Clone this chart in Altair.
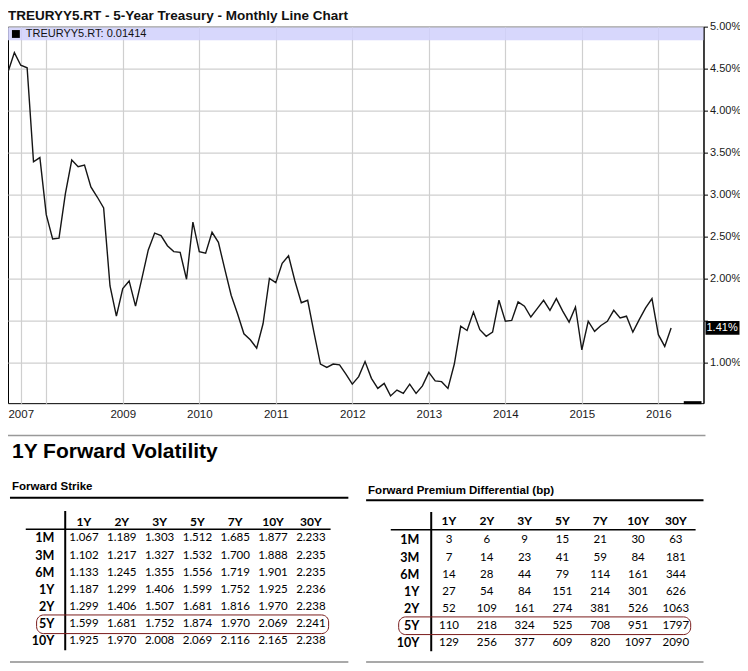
import altair as alt
import pandas as pd

# ---------------- data ----------------
TITLE = "TREURYY5.RT - 5-Year Treasury - Monthly Line Chart"
LEGEND = "TREURYY5.RT: 0.01414"
LAST_LABEL = "1.41%"
first_month = "2007-07-01"
yields = [4.46, 4.69, 4.54, 4.51, 3.39, 3.44, 2.76, 2.47, 2.48, 3.01,
          3.41, 3.33, 3.35, 3.09, 2.97, 2.84, 1.91, 1.55, 1.88, 1.97,
          1.67, 2.00, 2.34, 2.54, 2.51, 2.39, 2.32, 2.31, 1.99, 2.67,
          2.32, 2.30, 2.55, 2.43, 2.11, 1.80, 1.58, 1.34, 1.27, 1.17,
          1.46, 2.00, 1.95, 2.18, 2.27, 1.97, 1.71, 1.74, 1.35, 0.98,
          0.94, 0.98, 0.97, 0.86, 0.74, 0.83, 1.01, 0.81, 0.69, 0.75,
          0.60, 0.67, 0.63, 0.74, 0.63, 0.72, 0.88, 0.78, 0.77, 0.69,
          0.98, 1.43, 1.38, 1.60, 1.39, 1.31, 1.36, 1.74, 1.49, 1.50,
          1.72, 1.67, 1.54, 1.64, 1.74, 1.62, 1.76, 1.61, 1.48, 1.66,
          1.15, 1.49, 1.37, 1.44, 1.49, 1.62, 1.53, 1.55, 1.36, 1.51,
          1.65, 1.76, 1.33, 1.19, 1.41]
x_tick_values = [2007 + 8 / 12, 2008, 2009, 2010, 2011, 2012, 2013, 2014, 2015, 2016]
y_tick_values = [1.0, 1.5, 2.0, 2.5, 3.0, 3.5, 4.0, 4.5, 5.0]

tenors = ["1Y", "2Y", "3Y", "5Y", "7Y", "10Y", "30Y"]
expiries = ["1M", "3M", "6M", "1Y", "2Y", "5Y", "10Y"]
strike = [
    [1.067, 1.189, 1.303, 1.512, 1.685, 1.877, 2.233],
    [1.102, 1.217, 1.327, 1.532, 1.700, 1.888, 2.235],
    [1.133, 1.245, 1.355, 1.556, 1.719, 1.901, 2.235],
    [1.187, 1.299, 1.406, 1.599, 1.752, 1.925, 2.236],
    [1.299, 1.406, 1.507, 1.681, 1.816, 1.970, 2.238],
    [1.599, 1.681, 1.752, 1.874, 1.970, 2.069, 2.241],
    [1.925, 1.970, 2.008, 2.069, 2.116, 2.165, 2.238],
]
premium = [
    [3, 6, 9, 15, 21, 30, 63],
    [7, 14, 23, 41, 59, 84, 181],
    [14, 28, 44, 79, 114, 161, 344],
    [27, 54, 84, 151, 214, 301, 626],
    [52, 109, 161, 274, 381, 526, 1063],
    [110, 218, 324, 525, 708, 951, 1797],
    [129, 256, 377, 609, 820, 1097, 2090],
]

# ---------------- layout helpers ----------------
W_ALL, H_ALL = 732, 655
SX, SY = 732 / 742, 655 / 668


def X(xr):
    return (xr - 3) * SX


def Y(yr):
    return yr * SY


PL, PT = X(3), Y(19)
W = X(708) - PL
H = Y(403) - PT


def gx(xr):
    return X(xr) - PL


def gy(yr):
    return Y(yr) - PT


FONT = "Liberation Sans"
TFONT = "Lato"

months = pd.date_range(first_month, periods=len(yields), freq="MS")
ts = pd.DataFrame({"t": months.year + (months.month - 1) / 12, "v": yields})
last = pd.DataFrame({"v": [yields[-1]], "lab": [LAST_LABEL]})
one = pd.DataFrame({"k": [0]})

xdom = [2007.5, 2016.59]
ydom = [0.514, 5.0]

# ---------------- top line chart ----------------
band = alt.Chart(one).mark_rect(color="#d0d0fb", opacity=0.85).encode(
    x=alt.value(0), x2=alt.value(W), y=alt.value(gy(20)), y2=alt.value(gy(33)))
legsq = alt.Chart(one).mark_rect(color="black").encode(
    x=alt.value(gx(7)), x2=alt.value(gx(15)), y=alt.value(gy(22.5)), y2=alt.value(gy(30.5)))
legtxt = alt.Chart(one).mark_text(align="left", baseline="middle", font=FONT, fontSize=11,
                                  color="#111").encode(
    x=alt.value(gx(21)), y=alt.value(gy(26.5)), text=alt.value(LEGEND))
title = alt.Chart(one).mark_text(align="left", baseline="middle", font=FONT, fontSize=13.5,
                                 fontWeight="bold", color="#111").encode(
    x=alt.value(gx(3)), y=alt.value(gy(8.6)), text=alt.value(TITLE))

line = alt.Chart(ts).mark_line(color="#151515", strokeWidth=1.4).encode(
    x=alt.X("t:Q", scale=alt.Scale(domain=xdom, nice=False, zero=False),
            axis=alt.Axis(values=x_tick_values, title=None, grid=True, ticks=False, domain=False,
                          labelExpr="datum.value < 2007.9 ? '2007' : (datum.value < 2008.5 ? '' : format(datum.value, 'd'))",
                          labelFlush=False, labelOverlap=False, labelPadding=5, labelFontSize=11.5)),
    y=alt.Y("v:Q", scale=alt.Scale(domain=ydom, nice=False, zero=False),
            axis=alt.Axis(orient="right", values=y_tick_values, title=None, grid=True, ticks=True,
                          tickSize=4, tickColor="black", domain=True, domainColor="black",
                          labelExpr="datum.value == 1.5 ? '' : format(datum.value, '.2f') + '%'",
                          labelPadding=2, labelOverlap=False, labelFlush=False)),
)

lastbox = alt.Chart(last).transform_calculate(lo="datum.v - 0.082", hi="datum.v + 0.082").mark_rect(
    color="black").encode(
    x=alt.value(W + 2), x2=alt.value(W + 36),
    y=alt.Y("lo:Q", scale=alt.Scale(domain=ydom, nice=False, zero=False), axis=None),
    y2="hi:Q")
lasttxt = alt.Chart(last).mark_text(align="left", baseline="middle", font=FONT, fontSize=11,
                                    color="white").encode(
    x=alt.value(W + 3),
    y=alt.Y("v:Q", scale=alt.Scale(domain=ydom, nice=False, zero=False), axis=None),
    text="lab:N")
scrollmark = alt.Chart(one).mark_rule(color="black", strokeWidth=3).encode(
    x=alt.value(gx(688)), x2=alt.value(gx(706)), y=alt.value(gy(402.5)))

# ---------------- lower section ----------------
sep = alt.Chart(one).mark_rule(color="#999999", strokeWidth=1.5).encode(
    x=alt.value(0), x2=alt.value(gx(710)), y=alt.value(gy(436)))
vol_title = alt.Chart(one).mark_text(align="left", baseline="middle", font=FONT, fontSize=21,
                                     fontWeight="bold", color="black").encode(
    x=alt.value(gx(7)), y=alt.value(gy(453)), text=alt.value("1Y Forward Volatility"))


def make_table(values, fmt, name, name_x, name_y, rule_x0, rule_x1, rule_y,
               col_x0, col_x1, hdr_y, row_y0, row_y1, rowlab_x, vline_x, vline_y0, vline_y1,
               hline_x0, hline_x1, hline_y, box, bottom_y):
    recs = []
    for r, row in zip(expiries, values):
        for c, v in zip(tenors, row):
            recs.append({"row": r, "col": c, "label": fmt(v)})
    df = pd.DataFrame(recs)
    xs = alt.Scale(type="point", domain=tenors, range=[gx(col_x0), gx(col_x1)], padding=0)
    ys = alt.Scale(type="point", domain=expiries, range=[gy(row_y0), gy(row_y1)], padding=0)
    layers = []
    layers.append(alt.Chart(one).mark_text(align="left", baseline="middle", font=FONT, fontSize=11.5,
                                           fontWeight="bold", color="black").encode(
        x=alt.value(gx(name_x)), y=alt.value(gy(name_y)), text=alt.value(name)))
    layers.append(alt.Chart(one).mark_rule(color="black", strokeWidth=2).encode(
        x=alt.value(gx(rule_x0)), x2=alt.value(gx(rule_x1)), y=alt.value(gy(rule_y))))
    layers.append(alt.Chart(one).mark_rule(color="black", strokeWidth=2).encode(
        x=alt.value(gx(vline_x)), y=alt.value(gy(vline_y0)), y2=alt.value(gy(vline_y1))))
    layers.append(alt.Chart(one).mark_rule(color="black", strokeWidth=1.5).encode(
        x=alt.value(gx(hline_x0)), x2=alt.value(gx(hline_x1)), y=alt.value(gy(hline_y))))
    layers.append(alt.Chart(one).mark_rect(fill="transparent", stroke="#7a1c1c", strokeWidth=1,
                                           cornerRadius=7).encode(
        x=alt.value(gx(box[0])), x2=alt.value(gx(box[1])),
        y=alt.value(gy(box[2])), y2=alt.value(gy(box[3]))))
    layers.append(alt.Chart(one).mark_rule(color="#8c8c8c", strokeWidth=1.5).encode(
        x=alt.value(gx(rule_x0)), x2=alt.value(gx(rule_x1)), y=alt.value(gy(bottom_y))))
    layers.append(alt.Chart(pd.DataFrame({"col": tenors})).mark_text(
        baseline="middle", font=TFONT, fontSize=12, fontWeight="bold", color="black").encode(
        x=alt.X("col:N", scale=xs, axis=None), y=alt.value(gy(hdr_y)), text="col:N"))
    layers.append(alt.Chart(pd.DataFrame({"row": expiries})).mark_text(
        align="right", baseline="middle", font=TFONT, fontSize=12.5, fontWeight="bold",
        color="black").encode(
        x=alt.value(gx(rowlab_x)), y=alt.Y("row:N", scale=ys, axis=None), text="row:N"))
    layers.append(alt.Chart(df).mark_text(baseline="middle", font=TFONT, fontSize=11.5,
                                          color="black").encode(
        x=alt.X("col:N", scale=xs, axis=None), y=alt.Y("row:N", scale=ys, axis=None),
        text="label:N"))
    return layers


left = make_table(strike, lambda v: f"{v:.3f}", "Forward Strike", 7, 489, 5, 348, 499.5,
                  80, 310, 524, 541, 646, 50, 61, 513, 655, 21, 330, 531.5,
                  (32, 328, 619, 638), 667)
right = make_table(premium, lambda v: f"{v:d}", "Forward Premium Differential (bp)", 368, 493,
                   366, 708, 502, 450, 680, 523, 543, 648, 420, 432, 514, 656, 391, 700, 532,
                   (399, 695, 621, 639), 667)

chart = alt.layer(
    band, line, legsq, legtxt, title, lastbox, lasttxt, scrollmark, sep, vol_title,
    *left, *right,
).resolve_scale(x="independent", y="independent").properties(
    width=W, height=H,
    autosize=alt.AutoSizeParams(type="none"),
    padding={"left": PL, "top": PT, "right": W_ALL - PL - W, "bottom": H_ALL - PT - H},
).configure_view(stroke="black", strokeWidth=1).configure_axis(
    labelFont=FONT, labelFontSize=11, labelColor="#1a1a1a",
    gridColor="#cfcfcf", gridWidth=1.2,
)

chart.save("out.html", embed_options={"renderer": "svg", "actions": False})
